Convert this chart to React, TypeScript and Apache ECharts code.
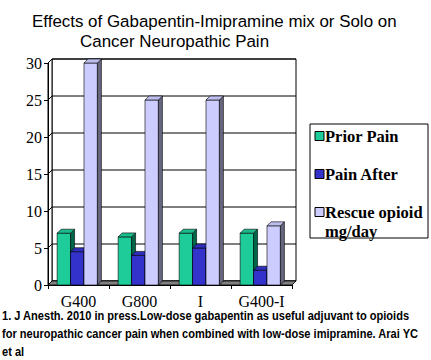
import React, { useEffect, useRef } from 'react';
import * as echarts from 'echarts';

const categories = ['G400', 'G800', 'I', 'G400-I'];
const priorPain = [7, 6.5, 7, 7];
const painAfter = [4.5, 4, 5, 2];
const rescueOpioid = [30, 25, 25, 8];
const yTicks = [0, 5, 10, 15, 20, 25, 30];
const seriesNames = ['Prior Pain', 'Pain After', 'Rescue opioid mg/day'];
const seriesValues = [priorPain, painAfter, rescueOpioid];
const titleLines = ['Effects of Gabapentin-Imipramine mix or Solo on', 'Cancer Neuropathic Pain'];
const footLines = [
  '1. J Anesth. 2010 in press.Low-dose gabapentin as useful adjuvant to opioids',
  'for neuropathic cancer pain when combined with low-dose imipramine. Arai YC',
  'et al',
];

const FACE = ['#1ECC99', '#3333CC', '#CCCCFF'];
const SIDE = ['#00664A', '#1A1A66', '#66667F'];
const TOPC = ['#19BB8C', '#2E2EBB', '#BDBDEE'];
const D = 4;

function measure(text: string, font: string): number {
  const cv = document.createElement('canvas');
  const ctx = cv.getContext('2d');
  if (!ctx) return 0;
  ctx.font = font;
  return ctx.measureText(text).width;
}

export default function App() {
  const ref = useRef<HTMLDivElement>(null);
  useEffect(() => {
    if (!ref.current) return;
    const chart = echarts.init(ref.current, null, { renderer: 'svg' });

    const barSeries = seriesValues.map((vals, i) => ({
      type: 'custom',
      name: seriesNames[i],
      z: 10,
      data: vals.map((v, ci) => [ci, v]),
      renderItem: (params: any, api: any) => {
        const ci = api.value(0);
        const v = api.value(1);
        const band = api.size([1, 0])[0];
        const c = api.coord([ci, v]);
        const b = api.coord([ci, 0]);
        const w = band * 0.22;
        const left = c[0] - band * 0.35 + i * w;
        const top = c[1];
        const base = b[1];
        const stroke = { stroke: '#000', lineWidth: 0.6 };
        return {
          type: 'group',
          children: [
            { type: 'rect', shape: { x: left, y: top, width: w, height: base - top }, style: { fill: FACE[i], ...stroke } },
            { type: 'polygon', shape: { points: [[left + w, top], [left + w + D, top - D], [left + w + D, base - D], [left + w, base]] }, style: { fill: SIDE[i], ...stroke } },
            { type: 'polygon', shape: { points: [[left, top], [left + D, top - D], [left + w + D, top - D], [left + w, top]] }, style: { fill: TOPC[i], ...stroke } },
          ],
        };
      },
    }));

    const frameSeries = {
      type: 'custom',
      name: 'frame',
      z: 1,
      silent: true,
      data: [[0, 0]],
      renderItem: (params: any) => {
        const cs = params.coordSys;
        const x = cs.x, y = cs.y, w = cs.width, h = cs.height;
        return {
          type: 'group',
          children: [
            { type: 'rect', shape: { x: x + D, y: y - D, width: w, height: h }, style: { fill: '#fff', stroke: '#000', lineWidth: 1 } },
            { type: 'polygon', shape: { points: [[x, y], [x + D, y - D], [x + D, y + h - D], [x, y + h]] }, style: { fill: '#fff', stroke: '#000', lineWidth: 1 } },
          ],
        };
      },
    };

    const gridLineSeries = {
      type: 'custom',
      name: 'gridlines',
      z: 2,
      silent: true,
      data: yTicks.map((t) => [0, t]),
      renderItem: (params: any, api: any) => {
        const cs = params.coordSys;
        const y = api.coord([0, api.value(1)])[1];
        return {
          type: 'polyline',
          shape: { points: [[cs.x, y], [cs.x + D, y - D], [cs.x + cs.width + D, y - D]] },
          style: { stroke: '#000', lineWidth: 1, fill: 'none' },
        };
      },
    };

    const floorSeries = {
      type: 'custom',
      name: 'floor',
      z: 3,
      silent: true,
      data: [[0, 0]],
      renderItem: (params: any, api: any) => {
        const cs = params.coordSys;
        const y0 = api.coord([0, 0])[1];
        return {
          type: 'polygon',
          shape: { points: [[cs.x, y0], [cs.x + D, y0 - D], [cs.x + cs.width + D, y0 - D], [cs.x + cs.width, y0]] },
          style: { fill: '#808080', stroke: '#000', lineWidth: 0.8 },
        };
      },
    };

    const legendFont = 'bold 16.5px "Liberation Serif"';
    const legendItems: any[] = [
      { type: 'rect', shape: { x: 310, y: 124, width: 118, height: 114 }, style: { fill: '#fff', stroke: '#000', lineWidth: 1 } },
    ];
    const legendY = [136, 174, 212];
    const legendText = ['Prior Pain', 'Pain After', 'Rescue opioid'];
    legendY.forEach((ly, i) => {
      legendItems.push({ type: 'rect', shape: { x: 315, y: ly - 4.5, width: 9, height: 9 }, style: { fill: FACE[i], stroke: '#000', lineWidth: 1 } });
      legendItems.push({ type: 'text', x: 325, y: ly, style: { text: legendText[i], font: legendFont, fill: '#000', verticalAlign: 'middle' } });
    });
    legendItems.push({ type: 'text', x: 325, y: 231, style: { text: 'mg/day', font: legendFont, fill: '#000', verticalAlign: 'middle' } });

    const titleFont = '17px "Liberation Sans"';
    const tw = measure(titleLines[0], titleFont);
    const titleScale = tw > 0 ? 365 / tw : 1;

    const footFont = 'bold 12px "Liberation Sans"';
    const fw = measure(footLines[0], footFont);
    const footScale = fw > 0 ? 408 / fw : 0.9;
    const footY = [316, 334, 352];

    chart.setOption({
      animation: false,
      backgroundColor: '#fff',
      grid: { left: 48, top: 63, width: 244, height: 222 },
      xAxis: {
        type: 'category',
        data: categories,
        axisLine: { show: true, lineStyle: { color: '#000', width: 1 } },
        axisTick: { show: true, length: 4, lineStyle: { color: '#000' } },
        axisLabel: { color: '#000', fontFamily: 'Liberation Serif', fontSize: 16, margin: 8 },
        splitLine: { show: false },
        z: 20,
      },
      yAxis: {
        type: 'value',
        min: 0,
        max: 30,
        interval: 5,
        axisLine: { show: true, lineStyle: { color: '#000', width: 1 } },
        axisTick: { show: true, length: 4, lineStyle: { color: '#000' } },
        axisLabel: { color: '#000', fontFamily: 'Liberation Serif', fontSize: 16, margin: 6 },
        splitLine: { show: false },
        z: 20,
      },
      series: [frameSeries, gridLineSeries, floorSeries, ...barSeries],
      graphic: [
        { type: 'text', x: 32, y: 21, scaleX: titleScale, style: { text: titleLines[0], font: titleFont, fill: '#000', verticalAlign: 'middle' } },
        { type: 'text', x: 80, y: 41.5, scaleX: titleScale, style: { text: titleLines[1], font: titleFont, fill: '#000', verticalAlign: 'middle' } },
        ...legendItems,
        ...footLines.map((t, i) => ({
          type: 'text', x: 2, y: footY[i], scaleX: footScale,
          style: { text: t, font: footFont, fill: '#000', verticalAlign: 'middle' },
        })),
      ],
    });
    return () => chart.dispose();
  }, []);
  return <div ref={ref} style={{ position: 'fixed', left: 0, top: 0, width: 431, height: 360 }} />;
}
